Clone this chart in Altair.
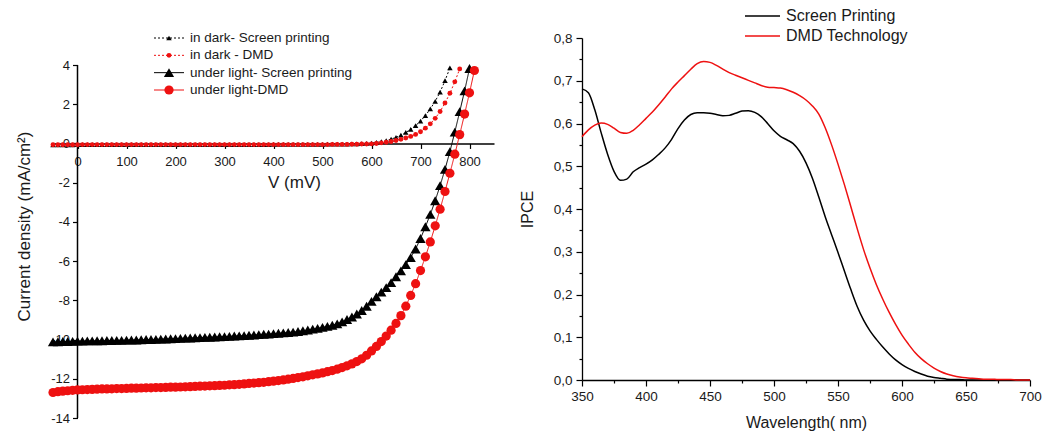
import altair as alt
import pandas as pd

FONT = "Arial"

# ---------------- Left panel: J-V curves ----------------
V_GRID = [-50, -40, -30, -20, -10, 0, 10, 20, 30, 40, 50, 60, 70, 80, 90, 100,
          110, 120, 130, 140, 150, 160, 170, 180, 190, 200, 210, 220, 230, 240,
          250, 260, 270, 280, 290, 300, 310, 320, 330, 340, 350, 360, 370, 380,
          390, 400, 410, 420, 430, 440, 450, 460, 470, 480, 490, 500, 510, 520,
          530, 540, 550, 560, 570, 580, 590, 600, 610, 620, 630, 640, 650, 660,
          670, 680, 690, 700, 710, 720, 730, 740, 750, 760, 770, 780, 790, 800, 810]

J_DARK_SP = [-0.07, -0.07, -0.07, -0.07, -0.07, -0.06, -0.06, -0.06, -0.06, -0.06,
             -0.06, -0.06, -0.06, -0.06, -0.06, -0.06, -0.06, -0.06, -0.06, -0.06,
             -0.06, -0.06, -0.06, -0.06, -0.06, -0.06, -0.06, -0.06, -0.06, -0.06,
             -0.06, -0.06, -0.06, -0.06, -0.06, -0.06, -0.06, -0.06, -0.06, -0.06,
             -0.06, -0.06, -0.06, -0.06, -0.06, -0.05, -0.05, -0.05, -0.05, -0.05,
             -0.05, -0.05, -0.05, -0.05, -0.05,
             -0.05, -0.04, -0.04, -0.04, -0.03, -0.03, -0.02, -0.02, -0.01, 0.00,
             0.02, 0.05, 0.09, 0.15, 0.22, 0.31, 0.42, 0.56, 0.72, 0.91,
             1.14, 1.42, 1.76, 2.15, 2.62, 3.20, 3.85]

J_DARK_DMD = [-0.07, -0.07, -0.07, -0.07, -0.07, -0.07, -0.06, -0.06, -0.06, -0.06,
              -0.06, -0.06, -0.06, -0.06, -0.06, -0.06, -0.06, -0.06, -0.06, -0.06,
              -0.06, -0.06, -0.06, -0.06, -0.06, -0.06, -0.06, -0.06, -0.06, -0.06,
              -0.06, -0.06, -0.06, -0.06, -0.06, -0.06, -0.06, -0.06, -0.06, -0.06,
              -0.06, -0.06, -0.06, -0.06, -0.06, -0.06, -0.06, -0.06, -0.06, -0.06,
              -0.06, -0.06, -0.06, -0.06, -0.06,
              -0.06, -0.06, -0.05, -0.05, -0.05, -0.05, -0.04, -0.04, -0.03, -0.03,
              -0.02, 0.00, 0.03, 0.06, 0.10, 0.15, 0.21, 0.28, 0.36, 0.46,
              0.60, 0.78, 1.00, 1.28, 1.63, 2.06, 2.56, 3.14, 3.80]

J_LIGHT_SP = [-10.12, -10.11, -10.10, -10.10, -10.09, -10.08, -10.08, -10.07, -10.07, -10.06,
              -10.06, -10.05, -10.05, -10.04, -10.04, -10.03, -10.02, -10.02, -10.01, -10.00,
              -10.00, -9.99, -9.98, -9.97, -9.96, -9.95, -9.94, -9.93, -9.92, -9.91,
              -9.90, -9.89, -9.88, -9.87, -9.86, -9.85, -9.84, -9.82, -9.81, -9.80,
              -9.78, -9.77, -9.75, -9.73, -9.72, -9.70, -9.68, -9.66, -9.64, -9.62,
              -9.59, -9.55, -9.51, -9.47, -9.43, -9.38, -9.33, -9.27, -9.20, -9.10,
              -8.98, -8.85, -8.70, -8.52, -8.30, -8.05, -7.82, -7.58, -7.35, -7.10,
              -6.80, -6.50, -6.18, -5.82, -5.38, -4.85, -4.25, -3.62, -2.92, -2.15,
              -1.32, -0.42, 0.58, 1.62, 2.68, 3.82]

J_LIGHT_DMD = [-12.70, -12.66, -12.63, -12.61, -12.59, -12.57, -12.56, -12.55, -12.54, -12.53,
               -12.52, -12.52, -12.51, -12.50, -12.50, -12.49, -12.48, -12.48, -12.47, -12.46,
               -12.46, -12.45, -12.45, -12.44, -12.43, -12.43, -12.42, -12.41, -12.40, -12.39,
               -12.38, -12.37, -12.36, -12.35, -12.34, -12.33, -12.31, -12.30, -12.28, -12.26,
               -12.24, -12.22, -12.20, -12.18, -12.15, -12.12, -12.09, -12.06, -12.02, -11.98,
               -11.94, -11.90, -11.85, -11.80, -11.75, -11.70, -11.64, -11.58, -11.51, -11.43,
               -11.34, -11.24, -11.12, -10.98, -10.80, -10.58, -10.35, -10.10, -9.82, -9.52,
               -9.18, -8.78, -8.30, -7.75, -7.15, -6.48, -5.78, -5.02, -4.20, -3.35,
               -2.45, -1.52, -0.55, 0.45, 1.50, 2.58, 3.72]

SERIES_LEFT = ["in dark- Screen printing", "in dark - DMD",
               "under light- Screen printing", "under light-DMD"]
X_TICKS_L = [0, 100, 200, 300, 400, 500, 600, 700, 800]
Y_TICKS_L = [-14, -13, -12, -11, -10, -9, -8, -7, -6, -5, -4, -3, -2, -1, 0, 1, 2, 3, 4]

# ---------------- Right panel: IPCE ----------------
WAVELENGTH = [350, 355, 360, 365, 370, 375, 380, 385, 390, 395, 400, 405, 410, 415,
              420, 425, 430, 435, 440, 445, 450, 455, 460, 465, 470, 475, 480, 485,
              490, 495, 500, 505, 510, 515, 520, 525, 530, 535, 540, 545, 550, 555,
              560, 565, 570, 575, 580, 585, 590, 595, 600, 605, 610, 615, 620, 625,
              630, 635, 640, 645, 650, 655, 660, 665, 670, 675, 680, 685, 690, 695, 700]

IPCE_SP = [0.681, 0.672, 0.632, 0.578, 0.528, 0.488, 0.467, 0.470, 0.487, 0.497,
           0.505, 0.515, 0.528, 0.543, 0.563, 0.588, 0.608, 0.621, 0.625, 0.625,
           0.624, 0.621, 0.618, 0.619, 0.624, 0.629, 0.630, 0.626, 0.616, 0.600,
           0.583, 0.570, 0.562, 0.553, 0.535, 0.508, 0.472, 0.428, 0.382, 0.340,
           0.298, 0.255, 0.212, 0.172, 0.140, 0.115, 0.095, 0.077, 0.061, 0.047,
           0.036, 0.027, 0.020, 0.014, 0.009, 0.006, 0.004, 0.002, 0.001, 0.001,
           0.000, 0.000, 0.000, 0.000, 0.000, 0.000, 0.000, 0.000, 0.000, 0.000, 0.000]

IPCE_DMD = [0.569, 0.585, 0.596, 0.601, 0.598, 0.589, 0.579, 0.577, 0.584, 0.597,
            0.612, 0.627, 0.644, 0.662, 0.681, 0.697, 0.712, 0.727, 0.740, 0.745,
            0.743, 0.736, 0.727, 0.719, 0.713, 0.707, 0.701, 0.695, 0.689, 0.685,
            0.684, 0.683, 0.679, 0.673, 0.665, 0.655, 0.641, 0.622, 0.590, 0.550,
            0.505, 0.457, 0.406, 0.354, 0.305, 0.262, 0.223, 0.189, 0.158, 0.130,
            0.105, 0.084, 0.065, 0.050, 0.038, 0.028, 0.020, 0.014, 0.010, 0.007,
            0.005, 0.004, 0.003, 0.002, 0.002, 0.001, 0.001, 0.001, 0.000, 0.000, 0.000]

SERIES_RIGHT = ["Screen Printing", "DMD Technology"]
X_TICKS_R = [350, 375, 400, 425, 450, 475, 500, 525, 550, 575, 600, 625, 650, 675, 700]
Y_TICKS_R = [0.0, 0.05, 0.1, 0.15, 0.2, 0.25, 0.3, 0.35, 0.4, 0.45, 0.5, 0.55,
             0.6, 0.65, 0.7, 0.75, 0.8]

# ---------------- build tables ----------------
rows = []
for name, js in zip(SERIES_LEFT, [J_DARK_SP, J_DARK_DMD, J_LIGHT_SP, J_LIGHT_DMD]):
    for v, j in zip(V_GRID, js):
        rows.append({"V": v, "J": j, "series": name})
jv = pd.DataFrame(rows)

ipce = pd.DataFrame(
    [{"wl": w, "ipce": p, "series": SERIES_RIGHT[0]} for w, p in zip(WAVELENGTH, IPCE_SP)]
    + [{"wl": w, "ipce": p, "series": SERIES_RIGHT[1]} for w, p in zip(WAVELENGTH, IPCE_DMD)]
)

RED_L = "#ee1111"
color_L = alt.Scale(domain=SERIES_LEFT, range=["#000000", RED_L, "#000000", RED_L])
shape_L = alt.Scale(domain=SERIES_LEFT, range=["triangle-up", "circle", "triangle-up", "circle"])
MARKER_SIZE = [30, 24, 105, 85]   # marker area per series (style)
dash_L = alt.Scale(domain=SERIES_LEFT, range=[[2, 2], [2, 2], [1, 0], [1, 0]])

# layout of the left panel: the plot area is taller than the axis so that the
# left panel's frame starts 27 px above its y axis top (as in the reference).
Y_MIN_L, Y_MAX_L = min(Y_TICKS_L), max(Y_TICKS_L)
AXIS_PX_L = 353
PX_PER_UNIT = AXIS_PX_L / (Y_MAX_L - Y_MIN_L)
W_L, H_L = 441, 380
Y_TOP_L = Y_MIN_L + H_L / PX_PER_UNIT
x_off = -(0 - Y_MIN_L) * PX_PER_UNIT
y_off = -W_L * 50 / 900

xL = alt.X("V:Q", scale=alt.Scale(domain=[-50, 850], nice=False, zero=False),
           axis=alt.Axis(values=X_TICKS_L, offset=x_off, title="V (mV)", titleX=241,
                         titleFontSize=17, titlePadding=6, labelFontSize=13, labelPadding=7,
                         tickSize=5, labelFlush=False, labelOverlap=False,
                         domainWidth=1.5, tickWidth=1.2))
yL = alt.Y("J:Q", scale=alt.Scale(domain=[Y_MIN_L, Y_TOP_L], nice=False, zero=False),
           axis=alt.Axis(values=Y_TICKS_L, offset=y_off, title="Current density (mA/cm²)",
                         titleY=188, titlePadding=17, titleFontSize=17, labelFontSize=13,
                         labelPadding=3, labelFlush=False, labelOverlap=False, domain=False,
                         tickSize={"condition": {"test": "datum.value % 2 === 0", "value": 5}, "value": 3},
                         labelExpr="datum.value % 2 === 0 ? '' + datum.value : ''",
                         tickWidth=1.2))

# y axis line (from the lowest to the highest tick)
axis_line_L = alt.Chart(pd.DataFrame({"V": [0], "y1": [Y_MIN_L], "y2": [Y_MAX_L]})).mark_rule(
    strokeWidth=1.5, color="#000000").encode(
    x=alt.X("V:Q"), y=alt.Y("y1:Q"), y2="y2:Q")

base_L = alt.Chart(jv).encode(
    x=xL, y=yL,
    color=alt.Color("series:N", scale=color_L, legend=None),
)
lines_L = base_L.mark_line(strokeWidth=1).encode(
    strokeDash=alt.StrokeDash("series:N", scale=dash_L, legend=None),
    detail="series:N", order="V:Q")
point_layers_L = [
    base_L.transform_filter(alt.datum.series == name).mark_point(
        filled=True, opacity=1, strokeWidth=0, size=sz).encode(
        shape=alt.Shape("series:N", scale=shape_L, legend=None))
    for name, sz in zip(SERIES_LEFT, MARKER_SIZE)
]
data_L = alt.layer(lines_L, axis_line_L, *point_layers_L)

leg_L = pd.DataFrame({"series": SERIES_LEFT, "row": [0, 1, 2, 3]})
yrow_L = alt.Y("row:Q", scale=alt.Scale(domain=[0, 3], range=[0, 52]), axis=None)
leg_rule_L = alt.Chart(leg_L).mark_rule(strokeWidth=1).encode(
    x=alt.value(101), x2=alt.value(131), y=yrow_L,
    color=alt.Color("series:N", scale=color_L, legend=None),
    strokeDash=alt.StrokeDash("series:N", scale=dash_L, legend=None))
leg_pts_L = [
    alt.Chart(leg_L).transform_filter(alt.datum.series == name).mark_point(
        filled=True, opacity=1, strokeWidth=0, size=sz).encode(
        x=alt.value(116), y=yrow_L,
        color=alt.Color("series:N", scale=color_L, legend=None),
        shape=alt.Shape("series:N", scale=shape_L, legend=None))
    for name, sz in zip(SERIES_LEFT, MARKER_SIZE)
]
leg_txt_L = alt.Chart(leg_L).mark_text(align="left", baseline="middle", fontSize=13.5,
                                       font=FONT, color="#1a1a1a").encode(
    x=alt.value(137), y=yrow_L, text="series:N")
legend_L = alt.layer(leg_rule_L, *leg_pts_L, leg_txt_L)

left = alt.layer(data_L, legend_L).resolve_scale(y="independent").properties(
    width=W_L, height=H_L)

# ---------------- right chart ----------------
W_R, H_R = 448, 342
color_R = alt.Scale(domain=SERIES_RIGHT, range=["#000000", "#ff0000"])
xR = alt.X("wl:Q", scale=alt.Scale(domain=[350, 700], nice=False, zero=False),
           axis=alt.Axis(values=X_TICKS_R, title="Wavelength( nm)", titleFontSize=16,
                         titlePadding=12, labelFontSize=13.5, labelPadding=3,
                         labelFlush=False, labelOverlap=False,
                         tickSize={"condition": {"test": "datum.value % 50 === 0", "value": 6}, "value": 3},
                         labelExpr="datum.value % 50 === 0 ? '' + datum.value : ''",
                         domainWidth=1.3, tickWidth=1.2))
yR = alt.Y("ipce:Q", scale=alt.Scale(domain=[0, 0.8], nice=False, zero=False),
           axis=alt.Axis(values=Y_TICKS_R, title="IPCE", titleFontSize=16, titlePadding=18,
                         labelFontSize=13.5, labelPadding=4, labelFlush=False, labelOverlap=False,
                         tickSize={"condition": {"test": "abs(datum.value*10 - round(datum.value*10)) < 0.001", "value": 6}, "value": 3},
                         labelExpr="abs(datum.value*10 - round(datum.value*10)) < 0.001 ? replace(format(datum.value, '.1f'), '.', ',') : ''",
                         domainWidth=1.3, tickWidth=1.2))
lines_R = alt.Chart(ipce).mark_line(strokeWidth=1.5, interpolate="monotone").encode(
    x=xR, y=yR, color=alt.Color("series:N", scale=color_R, legend=None),
    detail="series:N", order="wl:Q")

leg_R = pd.DataFrame({"series": SERIES_RIGHT, "row": [0, 1]})
yrow_R = alt.Y("row:Q", scale=alt.Scale(domain=[0, 1], range=[-22, -2]), axis=None)
leg_rule_R = alt.Chart(leg_R).mark_rule(strokeWidth=1.5).encode(
    x=alt.value(163), x2=alt.value(198), y=yrow_R,
    color=alt.Color("series:N", scale=color_R, legend=None))
leg_txt_R = alt.Chart(leg_R).mark_text(align="left", baseline="middle", fontSize=16,
                                       font=FONT, color="#1a1a1a").encode(
    x=alt.value(204), y=yrow_R, text="series:N")

right = alt.layer(lines_R, alt.layer(leg_rule_R, leg_txt_R)).resolve_scale(
    y="independent").properties(width=W_R, height=H_R)

chart = alt.hconcat(left, right, spacing=25).properties(
    padding={"left": 7, "top": 0, "right": 5, "bottom": 0}
).configure_view(stroke=None).configure_axis(
    domainColor="#000000", tickColor="#000000", labelColor="#1a1a1a",
    titleColor="#1a1a1a", labelFont=FONT, titleFont=FONT, titleFontWeight="normal",
    grid=False
)

chart.save("out.html", embed_options={"renderer": "svg", "actions": False})
